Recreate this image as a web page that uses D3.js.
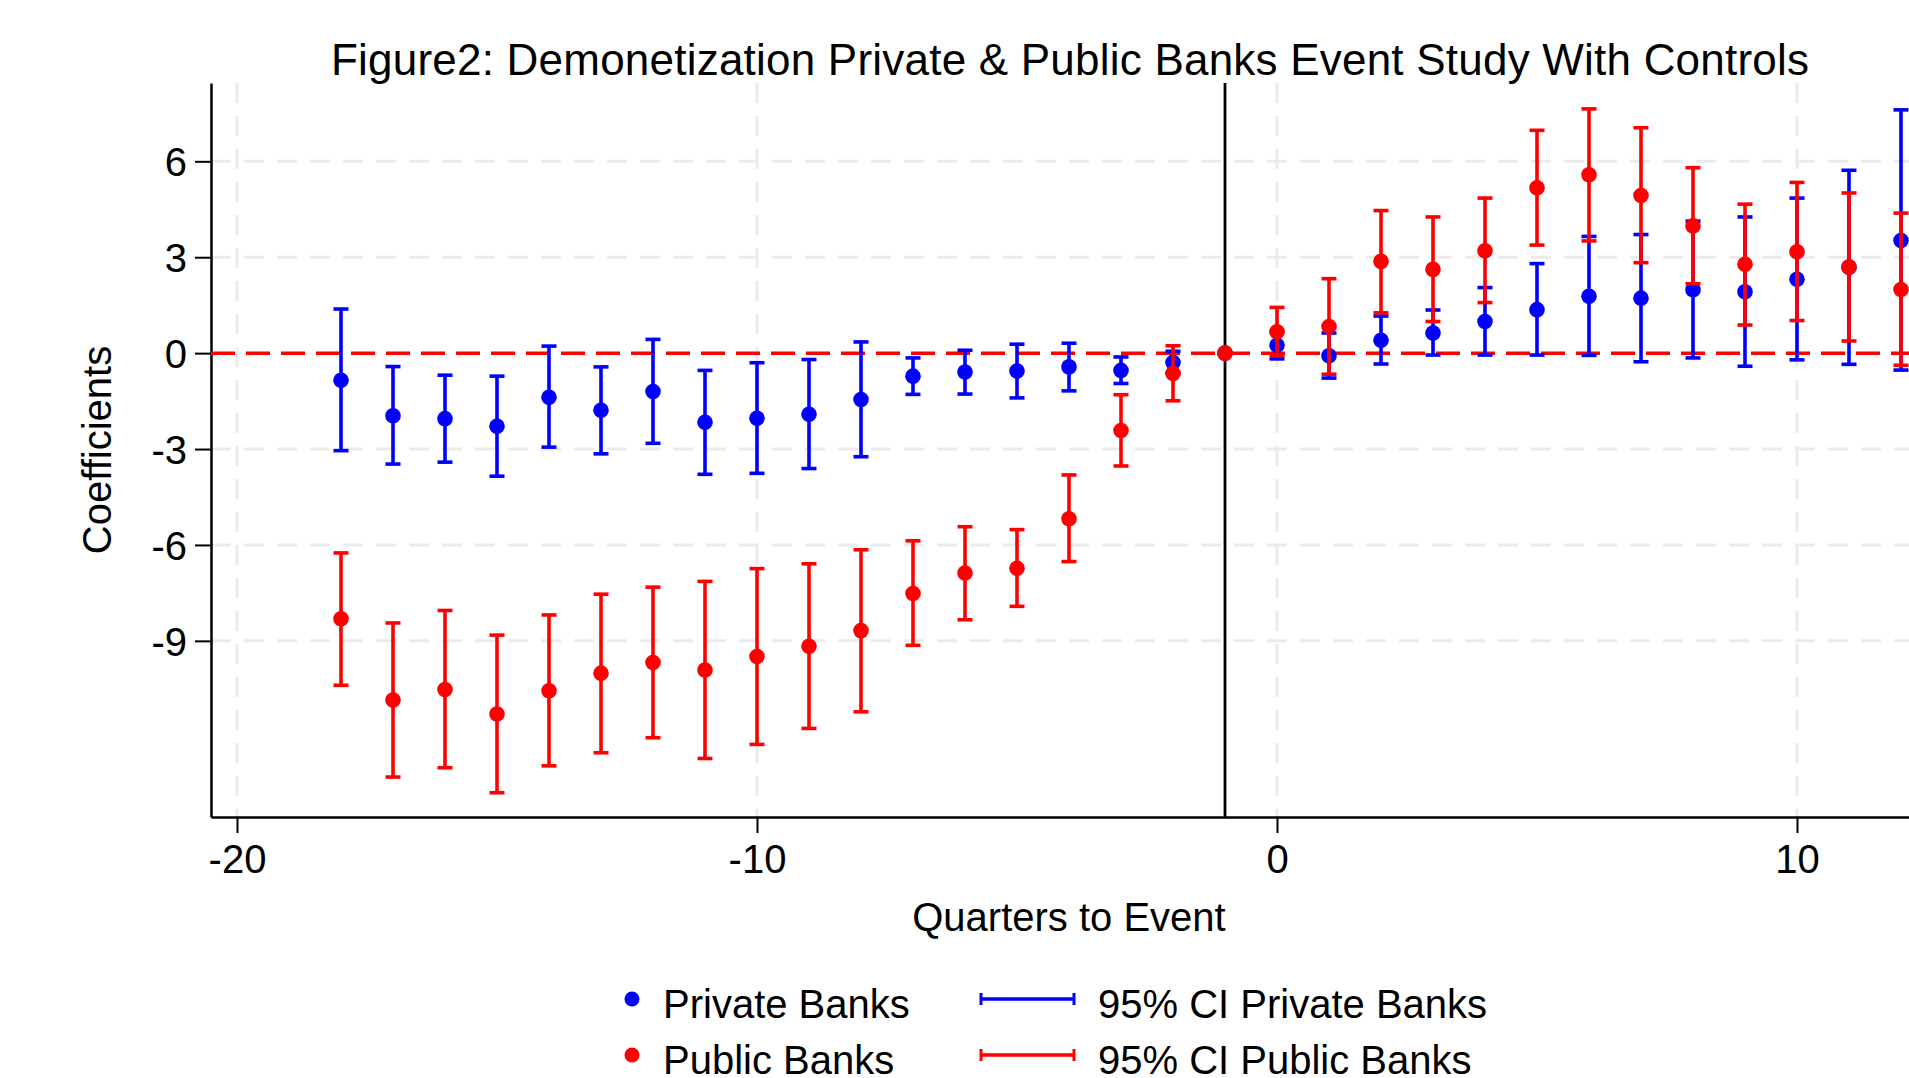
<!DOCTYPE html>
<html>
<head>
<meta charset="utf-8">
<script src="https://cdn.jsdelivr.net/npm/d3@7"></script>
<style>
  html, body { margin: 0; padding: 0; background: #ffffff; overflow: hidden; }
  svg { display: block; font-family: "Liberation Sans", Arial, Helvetica, sans-serif; }
</style>
</head>
<body>
<svg id="chart" width="1909" height="1078"></svg>
<script>
// Event-study coefficients by quarter relative to demonetization
const quarters = [-18,-17,-16,-15,-14,-13,-12,-11,-10,-9,-8,-7,-6,-5,-4,-3,-2,-1,0,1,2,3,4,5,6,7,8,9,10,11,12];

// Private banks: point estimate and 95% confidence bounds
const privateCoef  = [-0.85,-1.96,-2.05,-2.29,-1.38,-1.79,-1.20,-2.16,-2.04,-1.91,-1.45,-0.72,-0.59,-0.56,-0.43,-0.54,-0.29,0,0.25,-0.08,0.40,0.63,0.99,1.36,1.78,1.72,1.98,1.92,2.31,2.69,3.52];
const privateLower = [-3.05,-3.47,-3.41,-3.85,-2.94,-3.15,-2.82,-3.79,-3.76,-3.61,-3.24,-1.29,-1.28,-1.40,-1.18,-0.95,-0.63,0,-0.18,-0.78,-0.34,-0.06,-0.06,-0.06,-0.07,-0.27,-0.15,-0.41,-0.21,-0.35,-0.53];
const privateUpper = [1.38,-0.42,-0.69,-0.72,0.22,-0.43,0.43,-0.54,-0.30,-0.20,0.35,-0.15,0.09,0.28,0.31,-0.12,0.06,0,0.68,0.63,1.16,1.35,2.05,2.80,3.65,3.71,4.13,4.26,4.85,5.72,7.61];

// Public banks: point estimate and 95% confidence bounds
const publicCoef  = [-8.31,-10.85,-10.52,-11.29,-10.56,-10.01,-9.68,-9.91,-9.49,-9.17,-8.68,-7.52,-6.88,-6.73,-5.18,-2.42,-0.64,0,0.67,0.83,2.87,2.62,3.20,5.17,5.58,4.93,3.98,2.78,3.17,2.69,1.99];
const publicLower = [-10.39,-13.26,-12.97,-13.75,-12.91,-12.50,-12.03,-12.68,-12.24,-11.74,-11.22,-9.14,-8.34,-7.92,-6.52,-3.53,-1.49,0,-0.09,-0.66,1.26,0.99,1.58,3.38,3.51,2.83,2.17,0.88,1.02,0.38,-0.38];
const publicUpper = [-6.25,-8.44,-8.05,-8.82,-8.19,-7.54,-7.32,-7.14,-6.74,-6.59,-6.15,-5.87,-5.43,-5.52,-3.81,-1.30,0.23,0,1.43,2.33,4.46,4.26,4.85,6.97,7.64,7.05,5.80,4.66,5.34,5.01,4.38];

// Axis ticks
const xTicks = [-20, -10, 0, 10];
const yTicks = [6, 3, 0, -3, -6, -9];
const eventQuarter = -1;

const titleText = "Figure2: Demonetization Private & Public Banks Event Study With Controls";
const xTitle = "Quarters to Event";
const yTitle = "Coefficients";
const legendDots = ["Private Banks", "Public Banks"];
const legendCIs = ["95% CI Private Banks", "95% CI Public Banks"];

const BLUE = "#0000ff", RED = "#ff0000", GRID = "#ebebeb";

const svg = d3.select("#chart");
svg.append("rect").attr("width", 1909).attr("height", 1078).attr("fill", "#fff");

const x = d3.scaleLinear().domain([-20.5, 12.5]).range([211, 1927]);
const y = d3.scaleLinear().domain([-14.51, 8.45]).range([817, 83]);

const plot = svg.append("g");

// Gridlines
plot.append("g").selectAll("line").data(yTicks.filter(d => d !== 0)).join("line")
  .attr("x1", x.range()[0]).attr("x2", x.range()[1])
  .attr("y1", d => y(d)).attr("y2", d => y(d))
  .attr("stroke", GRID).attr("stroke-width", 3).attr("stroke-dasharray", "20,13");
plot.append("g").selectAll("line").data(xTicks).join("line")
  .attr("x1", d => x(d)).attr("x2", d => x(d))
  .attr("y1", y.range()[1]).attr("y2", y.range()[0])
  .attr("stroke", GRID).attr("stroke-width", 3).attr("stroke-dasharray", "20,13");

// Axes (plain hyphen for negative labels)
const plain = d => String(d);
const yAxis = d3.axisLeft(y).tickValues(yTicks).tickFormat(plain).tickSize(16).tickSizeOuter(0).tickPadding(8);
const xAxis = d3.axisBottom(x).tickValues(xTicks).tickFormat(plain).tickSize(16).tickSizeOuter(0).tickPadding(12);

const gy = svg.append("g").attr("transform", `translate(${x.range()[0]},0)`).call(yAxis);
const gx = svg.append("g").attr("transform", `translate(0,${y.range()[0]})`).call(xAxis);
[gx, gy].forEach(g => {
  g.select(".domain").attr("stroke", "#000").attr("stroke-width", 2.5);
  g.selectAll(".tick line").attr("stroke", "#000").attr("stroke-width", 2);
  g.selectAll(".tick text").attr("fill", "#000").attr("font-size", 40)
    .attr("font-family", "'Liberation Sans', Arial, Helvetica, sans-serif");
});
gy.selectAll(".tick text").attr("dy", "0.36em");
gx.selectAll(".tick text").attr("dy", "0.71em");

// Zero reference line and event marker
svg.append("line")
  .attr("x1", x.range()[0]).attr("x2", x.range()[1])
  .attr("y1", y(0)).attr("y2", y(0))
  .attr("stroke", RED).attr("stroke-width", 3.5).attr("stroke-dasharray", "24,11");
svg.append("line")
  .attr("x1", x(eventQuarter)).attr("x2", x(eventQuarter))
  .attr("y1", y.range()[1]).attr("y2", y.range()[0])
  .attr("stroke", "#000").attr("stroke-width", 2.8);

// Series drawn from the arrays: confidence caps then points
function series(coef, lo, hi, color) {
  const rows = quarters.map((q, i) => ({ q, c: coef[i], lo: lo[i], hi: hi[i] }));
  const g = svg.append("g");
  const cap = 7.5;
  const ci = g.append("g").attr("stroke", color).attr("stroke-width", 3.6);
  ci.selectAll(".stem").data(rows).join("line").attr("class", "stem")
    .attr("x1", d => x(d.q)).attr("x2", d => x(d.q))
    .attr("y1", d => y(d.lo)).attr("y2", d => y(d.hi));
  ci.selectAll(".capLo").data(rows).join("line").attr("class", "capLo")
    .attr("x1", d => x(d.q) - cap).attr("x2", d => x(d.q) + cap)
    .attr("y1", d => y(d.lo)).attr("y2", d => y(d.lo));
  ci.selectAll(".capHi").data(rows).join("line").attr("class", "capHi")
    .attr("x1", d => x(d.q) - cap).attr("x2", d => x(d.q) + cap)
    .attr("y1", d => y(d.hi)).attr("y2", d => y(d.hi));
  g.append("g").selectAll("circle").data(rows).join("circle")
    .attr("cx", d => x(d.q)).attr("cy", d => y(d.c)).attr("r", 7.8).attr("fill", color);
}
series(privateCoef, privateLower, privateUpper, BLUE);
series(publicCoef, publicLower, publicUpper, RED);

// Titles
svg.append("text").attr("x", 1070).attr("y", 75).attr("text-anchor", "middle")
  .attr("font-size", 44).attr("textLength", 1478).attr("lengthAdjust", "spacing")
  .attr("fill", "#000").text(titleText);
svg.append("text").attr("x", 1069).attr("y", 931).attr("text-anchor", "middle")
  .attr("font-size", 40).attr("fill", "#000").text(xTitle);
svg.append("text").attr("transform", "translate(111,450) rotate(-90)").attr("text-anchor", "middle")
  .attr("font-size", 40).attr("fill", "#000").text(yTitle);

// Legend
const legendColors = [BLUE, RED];
const rowsY = [999, 1055];
const leg = svg.append("g");
legendDots.forEach((label, i) => {
  leg.append("circle").attr("cx", 632).attr("cy", rowsY[i]).attr("r", 7.5).attr("fill", legendColors[i]);
  leg.append("text").attr("x", 663).attr("y", rowsY[i] + 19).attr("font-size", 40).attr("fill", "#000").text(label);
  const lg = leg.append("g").attr("stroke", legendColors[i]).attr("stroke-width", 3.6);
  lg.append("line").attr("x1", 980).attr("x2", 1075).attr("y1", rowsY[i]).attr("y2", rowsY[i]);
  lg.append("line").attr("x1", 981).attr("x2", 981).attr("y1", rowsY[i] - 6).attr("y2", rowsY[i] + 6).attr("stroke-width", 3);
  lg.append("line").attr("x1", 1074).attr("x2", 1074).attr("y1", rowsY[i] - 6).attr("y2", rowsY[i] + 6).attr("stroke-width", 3);
  leg.append("text").attr("x", 1098).attr("y", rowsY[i] + 19).attr("font-size", 40).attr("fill", "#000").text(legendCIs[i]);
});
</script>
</body>
</html>
